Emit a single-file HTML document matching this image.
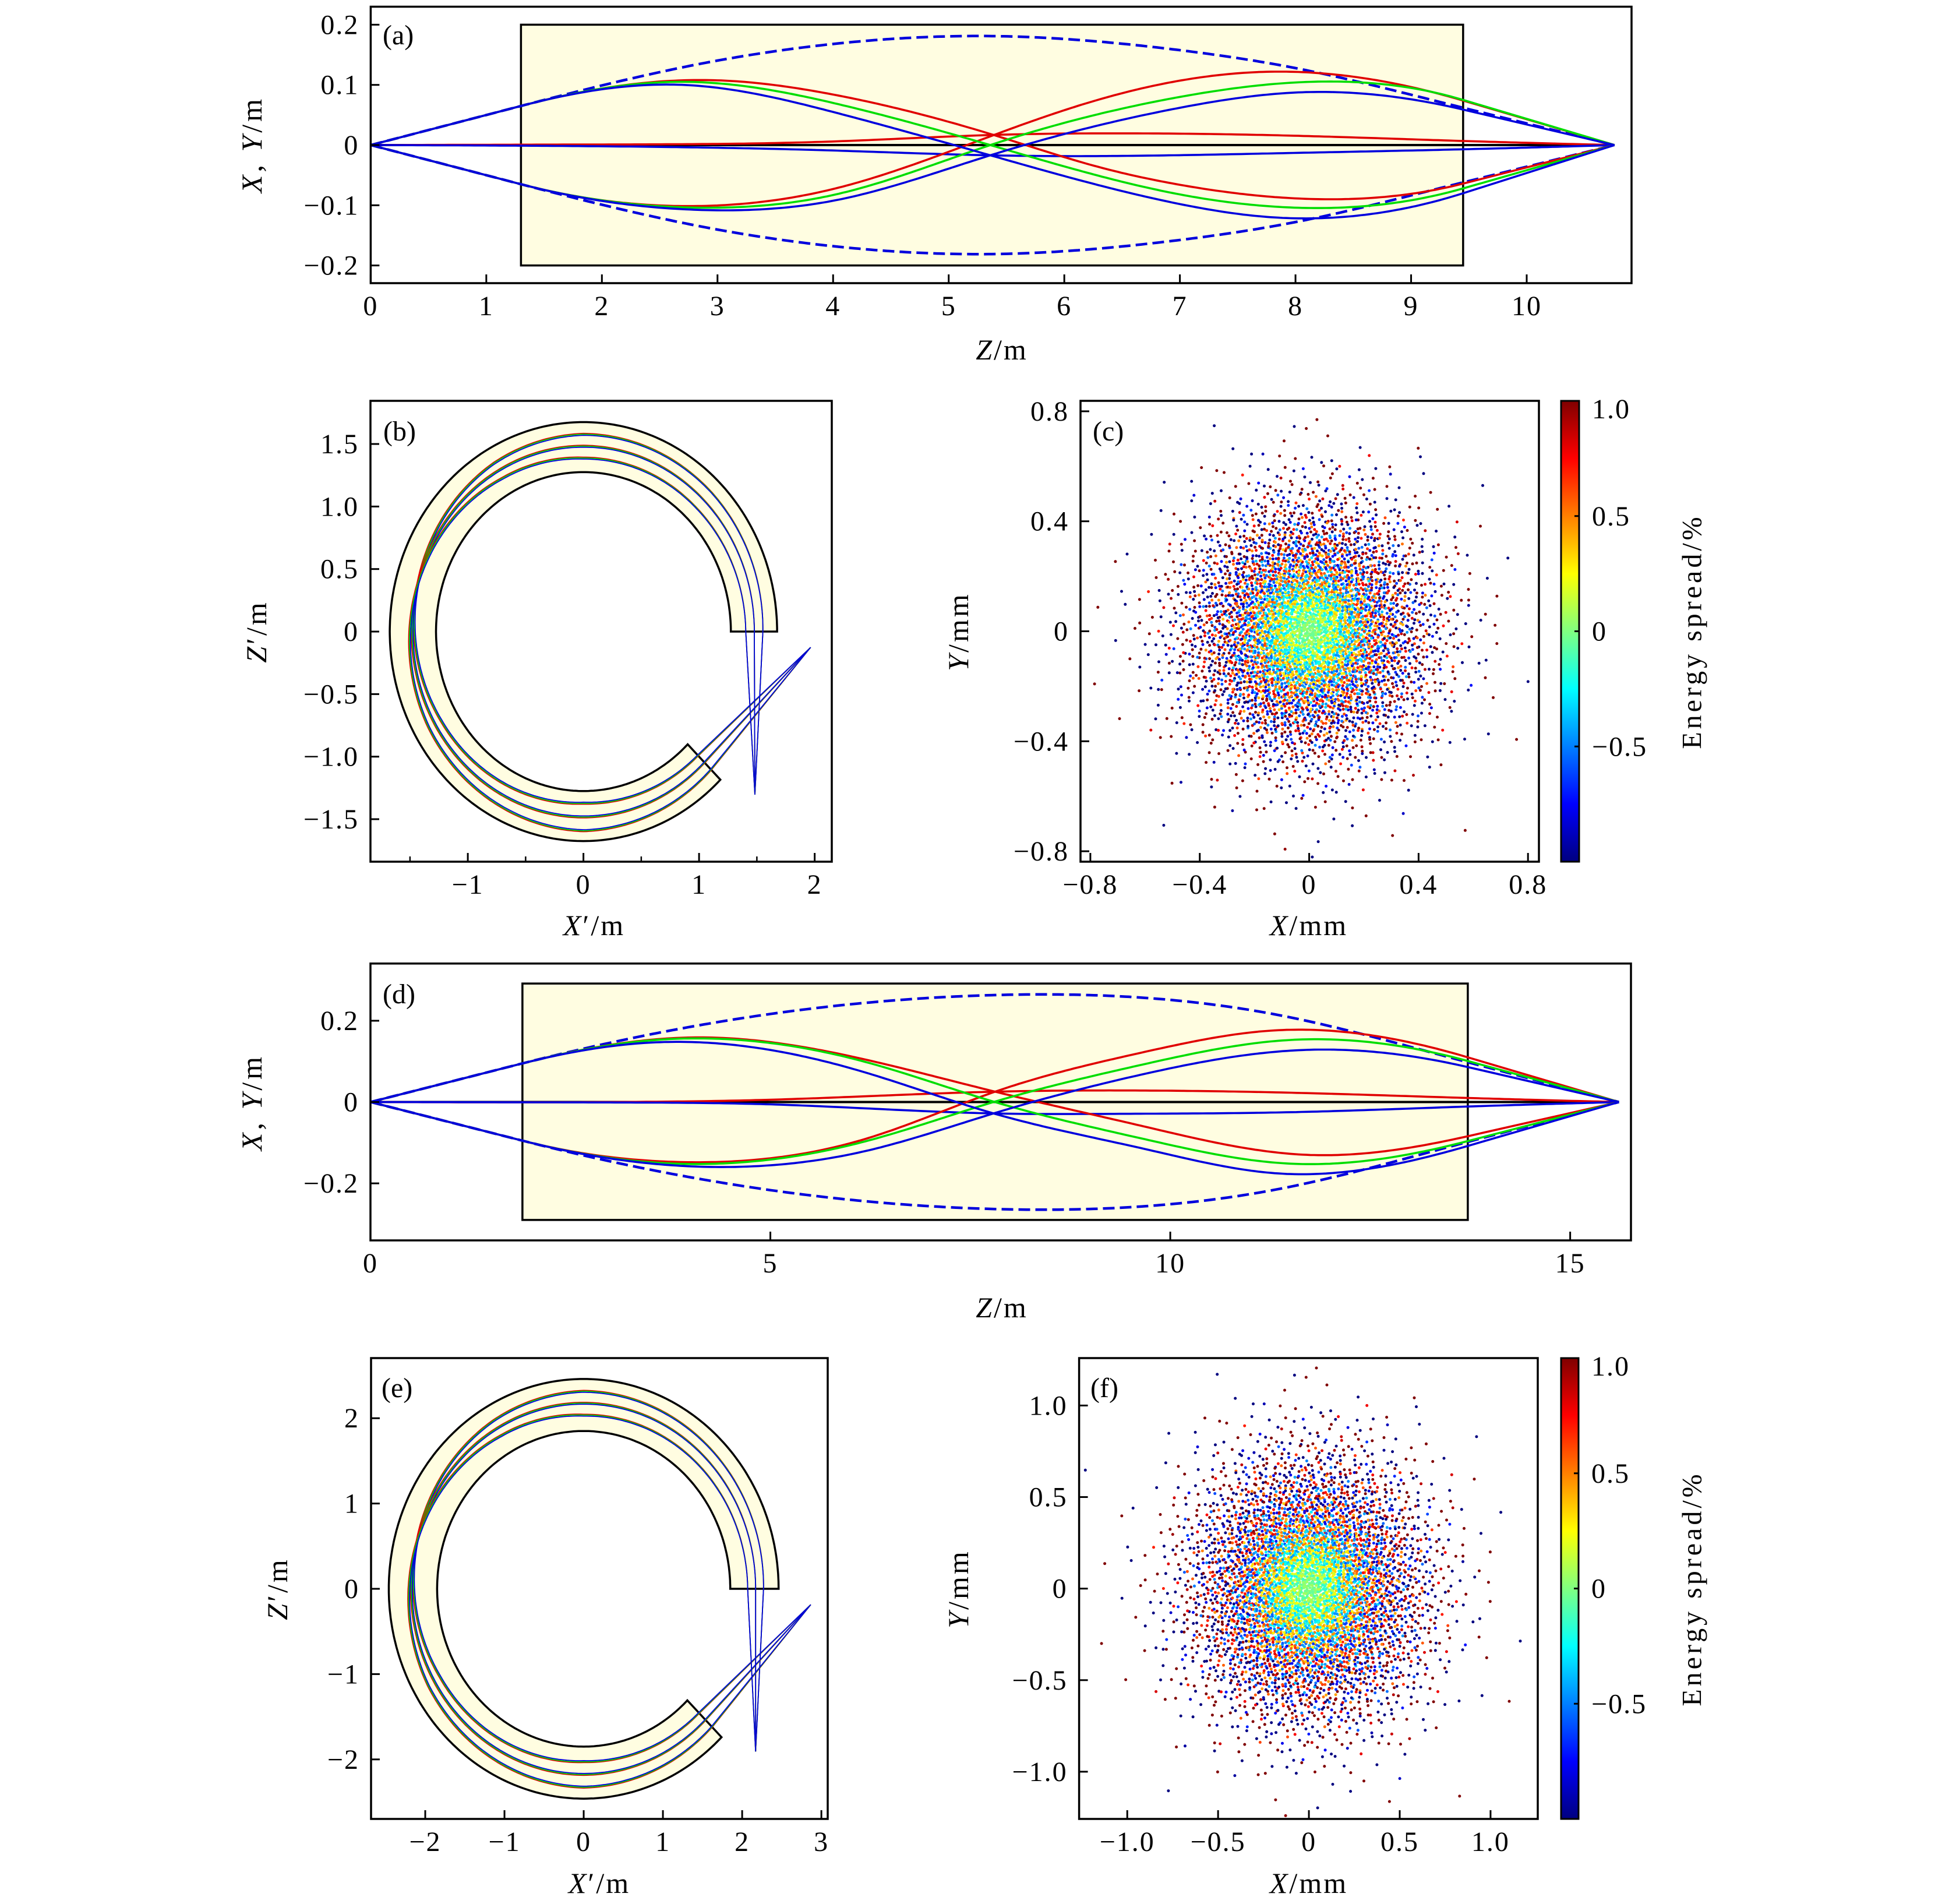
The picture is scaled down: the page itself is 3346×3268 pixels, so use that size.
<!DOCTYPE html>
<html>
<head>
<meta charset="utf-8">
<style>
html,body{margin:0;padding:0;background:#fff;}
svg{display:block;}
text{font-family:"Liberation Serif",serif;fill:#000;}
</style>
</head>
<body>
<svg id="fig" xmlns="http://www.w3.org/2000/svg" width="3346" height="3268" viewBox="0 0 3346 3268">
<defs>
<linearGradient id="jetgrad" x1="0" y1="1" x2="0" y2="0">
<stop offset="0" stop-color="#000080"/><stop offset="0.125" stop-color="#0000ff"/>
<stop offset="0.375" stop-color="#00ffff"/><stop offset="0.5" stop-color="#80ff80"/>
<stop offset="0.625" stop-color="#ffff00"/><stop offset="0.875" stop-color="#ff0000"/>
<stop offset="1" stop-color="#800000"/>
</linearGradient>
</defs>
</svg>
<script>
// ---------- data: panel (a) trajectories [Z, X] ----------
const aDashUp=[[0,0],[1.3,0.065],[2.85,0.135],[4.0,0.168],[5.4,0.181],[6.9,0.16],[8.05,0.126],[9.45,0.062],[10.76,0]];
const aDashDn=[[0,0],[1.3,-0.065],[2.85,-0.135],[4.0,-0.168],[5.4,-0.181],[6.9,-0.16],[8.05,-0.126],[9.45,-0.062],[10.76,0]];
const aRedUp=[[0,0],[1.3,0.065],[2.9,0.108],[4.0,0.084],[5.39,0.0167],[6.27,-0.035],[7.0,-0.066],[8.05,-0.089],[9.45,-0.064],[10.76,0]];
const aRedDn=[[0,0],[1.3,-0.065],[2.9,-0.101],[4.0,-0.073],[5.39,0.0167],[6.27,0.074],[7.84,0.122],[9.45,0.074],[10.76,0]];
const aGreenUp=[[0,0],[1.3,0.065],[2.75,0.105],[4.0,0.07],[5.36,0],[7.0,-0.082],[8.0,-0.104],[9.45,-0.072],[10.76,0]];
const aGreenDn=[[0,0],[1.3,-0.065],[2.85,-0.104],[4.0,-0.083],[5.36,0],[7.0,0.08],[8.0,0.104],[9.45,0.075],[10.76,0]];
const aBlueUp=[[0,0],[1.3,0.065],[2.7,0.1],[4.0,0.055],[5.36,-0.017],[7.0,-0.098],[7.8,-0.12],[9.45,-0.08],[10.76,0]];
const aBlueDn=[[0,0],[1.3,-0.065],[2.9,-0.108],[4.0,-0.0925],[5.36,-0.017],[7.0,0.062],[8.1,0.088],[9.45,0.059],[10.76,0]];
const aRedFlat=[[0,0],[2,0.001],[4,0.006],[5.36,0.0167],[6.5,0.0195],[8,0.0155],[9.45,0.0068],[10.76,0]];
const aBlueFlat=[[0,0],[2,-0.002],[4,-0.009],[5.36,-0.017],[6.5,-0.018],[8,-0.013],[9.45,-0.007],[10.76,0]];
const aMagnet=[1.3,9.45,-0.2,0.2];
const aXTicks=[0,1,2,3,4,5,6,7,8,9,10];
const aYTicks=[-0.2,-0.1,0,0.1,0.2];
const aYTickLabels=["−0.2","−0.1","0","0.1","0.2"];

// ---------- data: panel (d) trajectories [Z, X] ----------
const dDashUp=[[0,0],[1.9,0.095],[5.05,0.218],[7.9,0.2636],[11.38,0.213],[13.72,0.098],[15.61,0]];
const dDashDn=[[0,0],[1.9,-0.095],[5.05,-0.218],[7.9,-0.2636],[11.38,-0.213],[13.72,-0.098],[15.61,0]];
const dRedUp=[[0,0],[1.9,0.095],[4.12,0.159],[6.2,0.104],[7.81,0.0255],[9.65,-0.059],[11.73,-0.13],[13.72,-0.084],[15.61,0]];
const dRedDn=[[0,0],[1.9,-0.095],[4.0,-0.148],[6.2,-0.09],[7.81,0.0255],[9.65,0.122],[11.38,0.177],[13.72,0.11],[15.61,0]];
const dGreenUp=[[0,0],[1.9,0.095],[3.66,0.154],[6.2,0.098],[7.79,0.001],[9.65,-0.09],[11.5,-0.1515],[13.72,-0.096],[15.61,0]];
const dGreenDn=[[0,0],[1.9,-0.095],[3.9,-0.152],[6.2,-0.096],[7.79,0],[9.65,0.092],[11.5,0.1527],[13.72,0.101],[15.61,0]];
const dBlueUp=[[0,0],[1.9,0.095],[3.78,0.148],[6.2,0.072],[7.79,-0.028],[9.65,-0.114],[11.38,-0.176],[13.72,-0.108],[15.61,0]];
const dBlueDn=[[0,0],[1.9,-0.095],[4.12,-0.159],[6.2,-0.12],[7.79,-0.028],[9.65,0.068],[11.73,0.1285],[13.72,0.086],[15.61,0]];
const dRedFlat=[[0,0],[3,0.0],[5.05,0.006],[7.81,0.0255],[9.3,0.0285],[11.5,0.023],[13.72,0.01],[15.61,0]];
const dBlueFlat=[[0,0],[3,-0.001],[5.05,-0.006],[7.79,-0.028],[9.3,-0.029],[11.5,-0.025],[13.72,-0.011],[15.61,0]];
const dMagnet=[1.9,13.72,-0.29,0.2915];
const dXTicks=[0,5,10,15];
const dYTicks=[-0.2,0,0.2];
const dYTickLabels=["−0.2","0","0.2"];

// ---------- data: bending panels (b), (e) ----------
const bRadii=[1.275,1.675];
const bTrajAng=[-45,-90,-150,-195,-240,-270,-315,-360];
const bTrajSpread=[0.08,0.11,0.06,0,-0.07,-0.095,-0.09,-0.074];
const bColorFactor=[0.6,1,1,1,1,1,0.5,0];
const bCenterR=[1.478];
const bEntryFocus=[1.965,-0.126];
const bExitFocus=[1.483,-1.304];
const bXTicks=[-1,0,1,2];
const bXMinor=[-1.5,-0.5,0.5,1.5];
const bYTicks=[-1.5,-1,-0.5,0,0.5,1,1.5];
const bYTickLabels=["−1.5","−1.0","−0.5","0","0.5","1.0","1.5"];

const eRadii=[1.85,2.46];
const eTrajAng=[-45,-90,-150,-195,-240,-270,-315,-360];
const eTrajSpread=[0.115,0.15,0.09,0,-0.1,-0.14,-0.12,-0.1];
const eColorFactor=[0.6,1,1,1,1,1,0.5,0];
const eCenterR=[2.17];
const eEntryFocus=[2.866,-0.186];
const eExitFocus=[2.17,-1.907];
const eXTicks=[-2,-1,0,1,2,3];
const eYTicks=[-2,-1,0,1,2];
const eYTickLabels=["−2","−1","0","1","2"];

const bundleIdx=[-1,0,1];
const colorOffsets=[0.012,0.005,-0.004];
const trajColors=["#e00000","#00d000","#0000dd"];

// ---------- data: beam spots (c), (f) ----------
const cSigma=[0.22,0.23];
const cCount=[5200];
const cXTicks=[-0.8,-0.4,0,0.4,0.8];
const cXTickLabels=["−0.8","−0.4","0","0.4","0.8"];
const fSigma=[0.32,0.36];
const fCount=[5200];
const fXTicks=[-1,-0.5,0,0.5,1];
const fXTickLabels=["−1.0","−0.5","0","0.5","1.0"];
const cbTicks=[1,0.5,0,-0.5];
const cbTickLabels=["1.0","0.5","0","−0.5"];

// ---------- helpers ----------
const NS='http://www.w3.org/2000/svg';
const svg=document.getElementById('fig');
function mk(tag,attrs,parent){const e=document.createElementNS(NS,tag);for(const k in attrs)e.setAttribute(k,attrs[k]);(parent||svg).appendChild(e);return e;}
function lin(d0,d1,p0,p1){return v=>p0+(v-d0)*(p1-p0)/(d1-d0);}
const FS=48;

// cubic spline; d0/dn = end derivatives (null => natural)
function spline(xs,ys,d0,dn){
  const n=xs.length,h=[],a=new Array(n).fill(0),b=new Array(n).fill(0),c=new Array(n).fill(0),r=new Array(n).fill(0);
  for(let i=0;i<n-1;i++)h.push(xs[i+1]-xs[i]);
  if(d0===null){b[0]=1;}else{b[0]=2*h[0];c[0]=h[0];r[0]=6*((ys[1]-ys[0])/h[0]-d0);}
  for(let i=1;i<n-1;i++){a[i]=h[i-1];b[i]=2*(h[i-1]+h[i]);c[i]=h[i];r[i]=6*((ys[i+1]-ys[i])/h[i]-(ys[i]-ys[i-1])/h[i-1]);}
  if(dn===null){b[n-1]=1;}else{a[n-1]=h[n-2];b[n-1]=2*h[n-2];r[n-1]=6*(dn-(ys[n-1]-ys[n-2])/h[n-2]);}
  for(let i=1;i<n;i++){const m=a[i]/b[i-1];b[i]-=m*c[i-1];r[i]-=m*r[i-1];}
  const M=new Array(n);M[n-1]=r[n-1]/b[n-1];
  for(let i=n-2;i>=0;i--)M[i]=(r[i]-c[i]*M[i+1])/b[i];
  return x=>{
    let i=0;while(i<n-2&&x>xs[i+1])i++;
    const t=x-xs[i],hh=h[i],u=xs[i+1]-x;
    return M[i]*u*u*u/(6*hh)+M[i+1]*t*t*t/(6*hh)+(ys[i]/hh-M[i]*hh/6)*u+(ys[i+1]/hh-M[i+1]*hh/6)*t;
  };
}
function curvePath(data,straight,sx,sy){
  const n=data.length;
  let pts=[];
  if(straight){
    const inner=data.slice(1,n-1);
    const s0=(data[1][1]-data[0][1])/(data[1][0]-data[0][0]);
    const s1=(data[n-1][1]-data[n-2][1])/(data[n-1][0]-data[n-2][0]);
    const f=spline(inner.map(p=>p[0]),inner.map(p=>p[1]),s0,s1);
    pts.push(data[0]);
    const z0=inner[0][0],z1=inner[inner.length-1][0];
    for(let k=0;k<=240;k++){const z=z0+(z1-z0)*k/240;pts.push([z,f(z)]);}
    pts.push(data[n-1]);
  }else{
    const f=spline(data.map(p=>p[0]),data.map(p=>p[1]),null,null);
    const z0=data[0][0],z1=data[n-1][0];
    for(let k=0;k<=240;k++){const z=z0+(z1-z0)*k/240;pts.push([z,f(z)]);}
  }
  return 'M'+pts.map(p=>sx(p[0]).toFixed(1)+','+sy(p[1]).toFixed(1)).join('L');
}

function frame(P,name){
  const g=mk('g',{});
  
  
  return g;
}
function drawBox(P,g,name){
  const r=mk('rect',{x:P.L,y:P.T,width:P.R-P.L,height:P.B-P.T,fill:'none',stroke:'#000','stroke-width':3.5},g);
  
  
}
function xTicks(P,g,ticks,labels,minor,name){
  const sx=lin(P.x0,P.x1,P.L,P.R);
  ticks.forEach((v,i)=>{
    const t=mk('line',{x1:sx(v),x2:sx(v),y1:P.B,y2:P.B-15,stroke:'#000','stroke-width':3},g);
    
    
    const tx=mk('text',{x:sx(v),y:P.B+55,'text-anchor':'middle','font-size':FS,'letter-spacing':2},g);
    tx.textContent=labels?labels[i]:String(v);
    
    
  });
  (minor||[]).forEach(v=>{
    const t=mk('line',{x1:sx(v),x2:sx(v),y1:P.B,y2:P.B-9,stroke:'#000','stroke-width':2.5},g);
    
    
  });
}
function yTicks(P,g,ticks,labels,name){
  const sy=lin(P.y0,P.y1,P.B,P.T);
  ticks.forEach((v,i)=>{
    const t=mk('line',{x1:P.L,x2:P.L+15,y1:sy(v),y2:sy(v),stroke:'#000','stroke-width':3},g);
    
    
    const tx=mk('text',{x:P.L-20,y:sy(v)+16,'text-anchor':'end','font-size':FS,'letter-spacing':2},g);
    tx.textContent=labels?labels[i]:String(v);
    
    
  });
}
function label(x,y,html,rot,name,fs,ls){
  const t=mk('text',{x:x,y:y,'text-anchor':'middle','font-size':fs||FS,'letter-spacing':ls||3,'dominant-baseline':'central'});
  if(rot)t.setAttribute('transform','rotate(-90 '+x+' '+y+')');
  t.innerHTML=html;
  
  
  return t;
}
function panelTag(x,y,s,name){
  const t=mk('text',{x:x,y:y,'font-size':FS});
  t.textContent=s;
  
  
}

// ---------- Z-trajectory panels ----------
function trajPanel(P,id,magnet,curves,xt,yt,ytl){
  const g=frame(P,'panel-'+id);
  const sx=lin(P.x0,P.x1,P.L,P.R),sy=lin(P.y0,P.y1,P.B,P.T);
  const m=mk('rect',{x:sx(magnet[0]),y:sy(magnet[3]),width:sx(magnet[1])-sx(magnet[0]),height:sy(magnet[2])-sy(magnet[3]),fill:'#fffde1',stroke:'#000','stroke-width':3.5},g);
  
  
  const ax=mk('line',{x1:sx(0),x2:sx(curves.end),y1:sy(0),y2:sy(0),stroke:'#000','stroke-width':4},g);
  
  
  curves.list.forEach(c=>{
    const attrs={d:curvePath(c.d,c.straight,sx,sy),fill:'none',stroke:c.col,'stroke-width':c.dash?4.5:3.6,'stroke-linejoin':'round'};
    if(c.dash)attrs['stroke-dasharray']='20 9';
    const p=mk('path',attrs,g);
    
    
  });
  drawBox(P,g,'plot-frame-'+id);
  xTicks(P,g,xt,null,null,'x-axis-'+id);
  yTicks(P,g,yt,ytl,'y-axis-'+id);
}

const PA={L:636.4,R:2801,T:11.5,B:486,x0:0,x1:10.907,y0:-0.2294,y1:0.2299};
trajPanel(PA,'a',aMagnet,{end:10.76,list:[
 {d:aRedFlat,col:'#e00000',name:'red-axial-trajectory'},
 {d:aBlueFlat,col:'#0000dd',name:'blue-axial-trajectory'},
 {d:aDashUp,col:'#0000dd',dash:1,straight:1,name:'envelope-upper'},
 {d:aDashDn,col:'#0000dd',dash:1,straight:1,name:'envelope-lower'},
 {d:aRedUp,col:'#e00000',straight:1,name:'red-trajectory-upper'},
 {d:aRedDn,col:'#e00000',straight:1,name:'red-trajectory-lower'},
 {d:aGreenUp,col:'#00dd00',straight:1,name:'green-trajectory-upper'},
 {d:aGreenDn,col:'#00dd00',straight:1,name:'green-trajectory-lower'},
 {d:aBlueUp,col:'#0000dd',straight:1,name:'blue-trajectory-upper'},
 {d:aBlueDn,col:'#0000dd',straight:1,name:'blue-trajectory-lower'}]},aXTicks,aYTicks,aYTickLabels);

const PD={L:636,R:2800,T:1653.8,B:2129,x0:0,x1:15.76,y0:-0.3403,y1:0.3407};
trajPanel(PD,'d',dMagnet,{end:15.61,list:[
 {d:dRedFlat,col:'#e00000',name:'red-axial-trajectory'},
 {d:dBlueFlat,col:'#0000dd',name:'blue-axial-trajectory'},
 {d:dDashUp,col:'#0000dd',dash:1,straight:1,name:'envelope-upper'},
 {d:dDashDn,col:'#0000dd',dash:1,straight:1,name:'envelope-lower'},
 {d:dRedUp,col:'#e00000',straight:1,name:'red-trajectory-upper'},
 {d:dRedDn,col:'#e00000',straight:1,name:'red-trajectory-lower'},
 {d:dGreenUp,col:'#00dd00',straight:1,name:'green-trajectory-upper'},
 {d:dGreenDn,col:'#00dd00',straight:1,name:'green-trajectory-lower'},
 {d:dBlueUp,col:'#0000dd',straight:1,name:'blue-trajectory-upper'},
 {d:dBlueDn,col:'#0000dd',straight:1,name:'blue-trajectory-lower'}]},dXTicks,dYTicks,dYTickLabels);

// ---------- bending panels ----------
function interp(arr,angs,a){
  for(let i=0;i<angs.length-1;i++){
    if(a<=angs[i]&&a>=angs[i+1]){const t=(angs[i]-a)/(angs[i]-angs[i+1]);return arr[i]+(arr[i+1]-arr[i])*t;}
  }
  return arr[arr.length-1];
}
function bendPanel(P,id,radii,angs,spread,cf,rc,entryF,exitF,xt,xm,yt,ytl){
  const g=frame(P,'panel-'+id);
  const sx=lin(P.x0,P.x1,P.L,P.R),sy=lin(P.y0,P.y1,P.B,P.T);
  const pol=(r,deg)=>[sx(r*Math.cos(deg*Math.PI/180)),sy(r*Math.sin(deg*Math.PI/180))];
  let d='';
  for(let a=0;a<=315;a+=1){const p=pol(radii[1],a);d+=(a?'L':'M')+p[0].toFixed(1)+','+p[1].toFixed(1);}
  for(let a=315;a>=0;a-=1){const p=pol(radii[0],a);d+='L'+p[0].toFixed(1)+','+p[1].toFixed(1);}
  d+='Z';
  const ann=mk('path',{d:d,fill:'#fffde1',stroke:'#000','stroke-width':3.5,'stroke-linejoin':'miter'},g);
  
  
  bundleIdx.forEach((b,bi)=>{
    trajColors.forEach((col,ci)=>{
      const pts=[[sx(entryF[0]),sy(entryF[1])]];
      for(let a=-45;a>=-360;a-=1){
        const r=rc[0]+b*interp(spread,angs,a)+colorOffsets[ci]*interp(cf,angs,a)*(id==='e'?1.4:1);
        pts.push(pol(r,a));
      }
      pts.push([sx(exitF[0]),sy(exitF[1])]);
      const pl=mk('polyline',{points:pts.map(p=>p[0].toFixed(1)+','+p[1].toFixed(1)).join(' '),fill:'none',stroke:col,'stroke-width':1.8},g);
      
      
    });
  });
  drawBox(P,g,'plot-frame-'+id);
  xTicks(P,g,xt,xt.map(v=>v<0?'−'+(-v):String(v)),xm,'x-axis-'+id);
  yTicks(P,g,yt,ytl,'y-axis-'+id);
}
const PB={L:636,R:1428,T:688,B:1479,x0:-1.842,x1:2.148,y0:-1.84,y1:1.845};
bendPanel(PB,'b',bRadii,bTrajAng,bTrajSpread,bColorFactor,bCenterR,bEntryFocus,bExitFocus,bXTicks,bXMinor,bYTicks,bYTickLabels);
const PE={L:637,R:1421,T:2331,B:3122,x0:-2.684,x1:3.08,y0:-2.698,y1:2.705};
bendPanel(PE,'e',eRadii,eTrajAng,eTrajSpread,eColorFactor,eCenterR,eEntryFocus,eExitFocus,eXTicks,null,eYTicks,eYTickLabels);

// ---------- scatter panels ----------
function halton(i,b){let f=1,r=0;while(i>0){f/=b;r+=f*(i%b);i=Math.floor(i/b);}return r;}
function clamp(v){return Math.max(0,Math.min(1,v));}
function jet(v){
  const r=clamp(1.5-Math.abs(4*v-3)),g=clamp(1.5-Math.abs(4*v-2)),b=clamp(1.5-Math.abs(4*v-1));
  return 'rgb('+Math.round(r*255)+','+Math.round(g*255)+','+Math.round(b*255)+')';
}
function scatterPanel(P,id,sig,count,xt,xtl,CB,cbName){
  const g=frame(P,'panel-'+id);
  const sx=lin(P.x0,P.x1,P.L,P.R),sy=lin(P.y0,P.y1,P.B,P.T);
  const dots=mk('g',{},g);
  
  
  for(let i=1;i<=count[0];i++){
    const u1=Math.max(1e-6,halton(i,2)),u2=halton(i,3);
    const rho=Math.sqrt(-2*Math.log(u1));
    const x=sig[0]*rho*Math.cos(2*Math.PI*u2),y=sig[1]*rho*Math.sin(2*Math.PI*u2);
    if(x<P.x0||x>P.x1||y<P.y0||y>P.y1)continue;
    const m=Math.min(1,rho/1.8*(0.45+1.0*halton(i,5)));
    const e=(halton(i,7)<0.5?-1:1)*m;
    const c=mk('circle',{cx:sx(x).toFixed(1),cy:sy(y).toFixed(1),r:2.5,fill:jet((e+1)/2)},dots);
    
    
  }
  drawBox(P,g,'plot-frame-'+id);
  xTicks(P,g,xt,xtl,null,'x-axis-'+id);
  yTicks(P,g,xt,xtl,'y-axis-'+id);
  const cb=mk('rect',{x:CB.L,y:CB.T,width:CB.R-CB.L,height:CB.B-CB.T,fill:'url(#jetgrad)',stroke:'#000','stroke-width':3},g);
  
  
  const cy=lin(-1,1,CB.B,CB.T);
  cbTicks.forEach((v,i)=>{
    const t=mk('line',{x1:CB.R-8,x2:CB.R,y1:cy(v),y2:cy(v),stroke:'#000','stroke-width':3},g);
    
    
    const tx=mk('text',{x:CB.R+22,y:cy(v)+(v===1?30:16),'font-size':FS,'letter-spacing':2},g);
    tx.textContent=cbTickLabels[i];
    
    
  });
}
const PC={L:1855,R:2642,T:688,B:1479,x0:-0.836,x1:0.84,y0:-0.838,y1:0.838};
scatterPanel(PC,'c',cSigma,cCount,cXTicks,cXTickLabels,{L:2680,R:2711,T:688,B:1479},'colorbar-c');
const PF={L:1852.6,R:2640,T:2331,B:3122,x0:-1.265,x1:1.26,y0:-1.258,y1:1.259};
scatterPanel(PF,'f',fSigma,fCount,fXTicks,fXTickLabels,{L:2680,R:2710,T:2331,B:3122},'colorbar-f');

// ---------- labels ----------
label(432,248,'<tspan font-style="italic">X</tspan>, <tspan font-style="italic">Y</tspan>/m',true,'y-axis-title-a',50,5);
label(1720,600,'<tspan font-style="italic">Z</tspan>/m',false,'x-axis-title-a',50,3);
label(440,1084,'<tspan font-style="italic">Z</tspan>′/m',true,'y-axis-title-b',50,4);
label(1020,1588,'<tspan font-style="italic">X</tspan>′/m',false,'x-axis-title-b',50,3);
label(1645,1084,'<tspan font-style="italic">Y</tspan>/mm',true,'y-axis-title-c',50,4);
label(2247,1588,'<tspan font-style="italic">X</tspan>/mm',false,'x-axis-title-c',50,3);
label(2905,1084,'Energy spread/%',true,'colorbar-title-c',48,5);
label(432,1892,'<tspan font-style="italic">X</tspan>, <tspan font-style="italic">Y</tspan>/m',true,'y-axis-title-d',50,5);
label(1720,2244,'<tspan font-style="italic">Z</tspan>/m',false,'x-axis-title-d',50,3);
label(476,2727,'<tspan font-style="italic">Z</tspan>′/m',true,'y-axis-title-e',50,4);
label(1029,3232,'<tspan font-style="italic">X</tspan>′/m',false,'x-axis-title-e',50,3);
label(1645,2727,'<tspan font-style="italic">Y</tspan>/mm',true,'y-axis-title-f',50,4);
label(2247,3232,'<tspan font-style="italic">X</tspan>/mm',false,'x-axis-title-f',50,3);
label(2905,2727,'Energy spread/%',true,'colorbar-title-f',48,5);
panelTag(657,76,'(a)','panel-tag-a');
panelTag(658,756,'(b)','panel-tag-b');
panelTag(1876,756,'(c)','panel-tag-c');
panelTag(657,1722,'(d)','panel-tag-d');
panelTag(655,2398,'(e)','panel-tag-e');
panelTag(1872,2398,'(f)','panel-tag-f');
</script>
</body>
</html>
